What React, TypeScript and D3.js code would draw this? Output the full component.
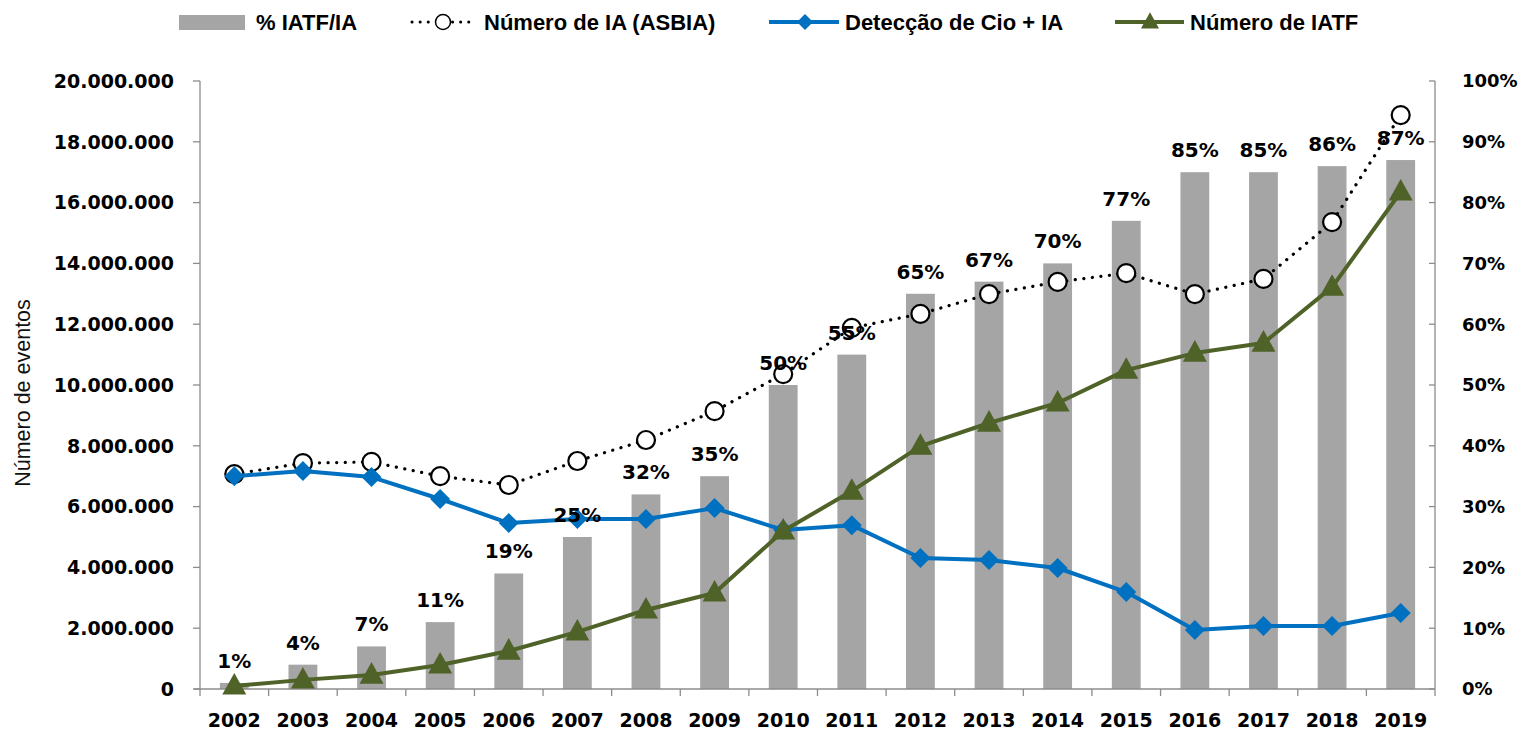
import React from "react";
import * as d3 from "d3";

const years = ["2002","2003","2004","2005","2006","2007","2008","2009","2010","2011","2012","2013","2014","2015","2016","2017","2018","2019"];
const pctIATF = [0.01,0.04,0.07,0.11,0.19,0.25,0.32,0.35,0.50,0.55,0.65,0.67,0.70,0.77,0.85,0.85,0.86,0.87];
const pctLabels = ["1%","4%","7%","11%","19%","25%","32%","35%","50%","55%","65%","67%","70%","77%","85%","85%","86%","87%"];
const numIA = [7070000,7430000,7470000,7000000,6710000,7500000,8190000,9140000,10360000,11880000,12340000,12990000,13390000,13680000,12990000,13490000,15360000,18880000];
const detCio = [7000000,7170000,6970000,6250000,5460000,5590000,5590000,5950000,5230000,5390000,4310000,4240000,3980000,3190000,1940000,2070000,2070000,2500000];
const numIATF = [100000,300000,460000,790000,1250000,1880000,2600000,3160000,5200000,6510000,7990000,8750000,9410000,10490000,11050000,11380000,13220000,16350000];
const leftTicks = [0,2e6,4e6,6e6,8e6,10e6,12e6,14e6,16e6,18e6,20e6];
const rightTicks = [0,0.1,0.2,0.3,0.4,0.5,0.6,0.7,0.8,0.9,1.0];

const legendItems = ["% IATF/IA", "Número de IA (ASBIA)", "Detecção de Cio + IA", "Número de IATF"];

const W = 1521, H = 731;
const L = 200, R = 1435, T = 81, B = 689;
const BAR = "#a5a5a5", BLUE = "#0070c0", GREEN = "#4f6228", AXIS = "#8c8c8c";
const NUMF = "'DejaVu Sans', Verdana, sans-serif";
const LEGF = "'Liberation Sans', Arial, sans-serif";

function fmtThousands(v: number) {
  return d3.format(",")(v).replace(/,/g, ".");
}

function diamond(cx: number, cy: number, s: number) {
  return `M${cx},${cy - s}L${cx + s},${cy}L${cx},${cy + s}L${cx - s},${cy}Z`;
}
function triangle(cx: number, cy: number, s: number) {
  const h = s * 0.9;
  return `M${cx},${cy - h * 0.6}L${cx + s / 2},${cy + h * 0.4}L${cx - s / 2},${cy + h * 0.4}Z`;
}

export default function App() {
  React.useEffect(() => { document.body.style.margin = "0"; }, []);
  const x = d3.scaleBand<string>().domain(years).range([L, R]);
  const bw = x.step() * 0.42;
  const cx = (y: string) => (x(y) as number) + x.bandwidth() / 2;
  const yL = d3.scaleLinear().domain([0, 20e6]).range([B, T]);
  const yR = d3.scaleLinear().domain([0, 1]).range([B, T]);
  const line = d3.line<number>().x((_, i) => cx(years[i])).y(d => yL(d));

  const legY = 22;
  const legFS = 22;
  return (
    <svg width={W} height={H} style={{ position: "absolute", left: 0, top: 0, background: "#fff" }}>
      {/* legend */}
      <g>
        <rect x={179} y={15} width={66} height={15} fill={BAR} />
        <text x={256} y={legY + 7.5} fontFamily={LEGF} fontWeight="bold" fontSize={legFS}>{legendItems[0]}</text>
        <line x1={412} x2={474} y1={legY} y2={legY} stroke="#000" strokeWidth={3} strokeDasharray="0.1 8" strokeLinecap="round" />
        <circle cx={443} cy={legY} r={7.5} fill="#fff" stroke="#000" strokeWidth={1.5} />
        <text x={484} y={legY + 7.5} fontFamily={LEGF} fontWeight="bold" fontSize={legFS}>{legendItems[1]}</text>
        <line x1={769} x2={839} y1={legY} y2={legY} stroke={BLUE} strokeWidth={4} />
        <path d={diamond(805, legY, 8)} fill={BLUE} />
        <text x={845} y={legY + 7.5} fontFamily={LEGF} fontWeight="bold" fontSize={legFS}>{legendItems[2]}</text>
        <line x1={1115} x2={1184} y1={legY} y2={legY} stroke={GREEN} strokeWidth={4} />
        <path d={triangle(1150, legY, 18)} fill={GREEN} />
        <text x={1190} y={legY + 7.5} fontFamily={LEGF} fontWeight="bold" fontSize={legFS}>{legendItems[3]}</text>
      </g>

      {/* bars */}
      {years.map((y, i) => (
        <rect key={y} x={cx(y) - bw / 2} y={yR(pctIATF[i])} width={bw} height={B - yR(pctIATF[i])} fill={BAR} />
      ))}

      {/* axes */}
      <g stroke={AXIS} strokeWidth={1.3}>
        <line x1={L} x2={L} y1={T} y2={B} />
        <line x1={R} x2={R} y1={T} y2={B} />
        <line x1={L - 6} x2={R} y1={B} y2={B} />
        {leftTicks.map(t => <line key={"l" + t} x1={L - 7} x2={L} y1={yL(t)} y2={yL(t)} />)}
        {rightTicks.map(t => <line key={"r" + t} x1={R - 6} x2={R} y1={yR(t)} y2={yR(t)} />)}
        {years.map(y => <line key={"x" + y} x1={x(y) as number} x2={x(y) as number} y1={B} y2={B + 7} />)}
        <line x1={R} x2={R} y1={B} y2={B + 7} />
      </g>
      {leftTicks.map(t => (
        <text key={"lt" + t} x={174} y={yL(t)} dy="0.36em" textAnchor="end" fontFamily={NUMF} fontWeight="bold" fontSize={19}>{fmtThousands(t)}</text>
      ))}
      {rightTicks.map(t => (
        <text key={"rt" + t} x={1462} y={yR(t)} dy="0.36em" textAnchor="start" fontFamily={NUMF} fontWeight="bold" fontSize={18}>{Math.round(t * 100) + "%"}</text>
      ))}
      {years.map(y => (
        <text key={"xt" + y} x={cx(y)} y={727} textAnchor="middle" fontFamily={NUMF} fontWeight="bold" fontSize={19}>{y}</text>
      ))}
      <text transform={`translate(30,${(T + B) / 2 + 8}) rotate(-90)`} textAnchor="middle" fontFamily={LEGF} fontSize={21.5} fill="#111">Número de eventos</text>

      {/* Número de IA dotted */}
      <path d={line(numIA) || ""} fill="none" stroke="#000" strokeWidth={3.2} strokeDasharray="0.1 8.5" strokeLinecap="round" />
      {numIA.map((v, i) => (
        <circle key={"c" + i} cx={cx(years[i])} cy={yL(v)} r={9} fill="#fff" stroke="#000" strokeWidth={2.2} />
      ))}

      {/* Detecção de Cio */}
      <path d={line(detCio) || ""} fill="none" stroke={BLUE} strokeWidth={4} strokeLinejoin="round" />
      {detCio.map((v, i) => (
        <path key={"d" + i} d={diamond(cx(years[i]), yL(v), 10)} fill={BLUE} />
      ))}

      {/* Número de IATF */}
      <path d={line(numIATF) || ""} fill="none" stroke={GREEN} strokeWidth={4} strokeLinejoin="round" />
      {numIATF.map((v, i) => (
        <path key={"t" + i} d={triangle(cx(years[i]), yL(v), 24)} fill={GREEN} />
      ))}

      {/* data labels */}
      {years.map((y, i) => (
        <text key={"lab" + y} x={cx(y)} y={yR(pctIATF[i]) - 15} textAnchor="middle" fontFamily={NUMF} fontWeight="bold" fontSize={20}>{pctLabels[i]}</text>
      ))}
    </svg>
  );
}
